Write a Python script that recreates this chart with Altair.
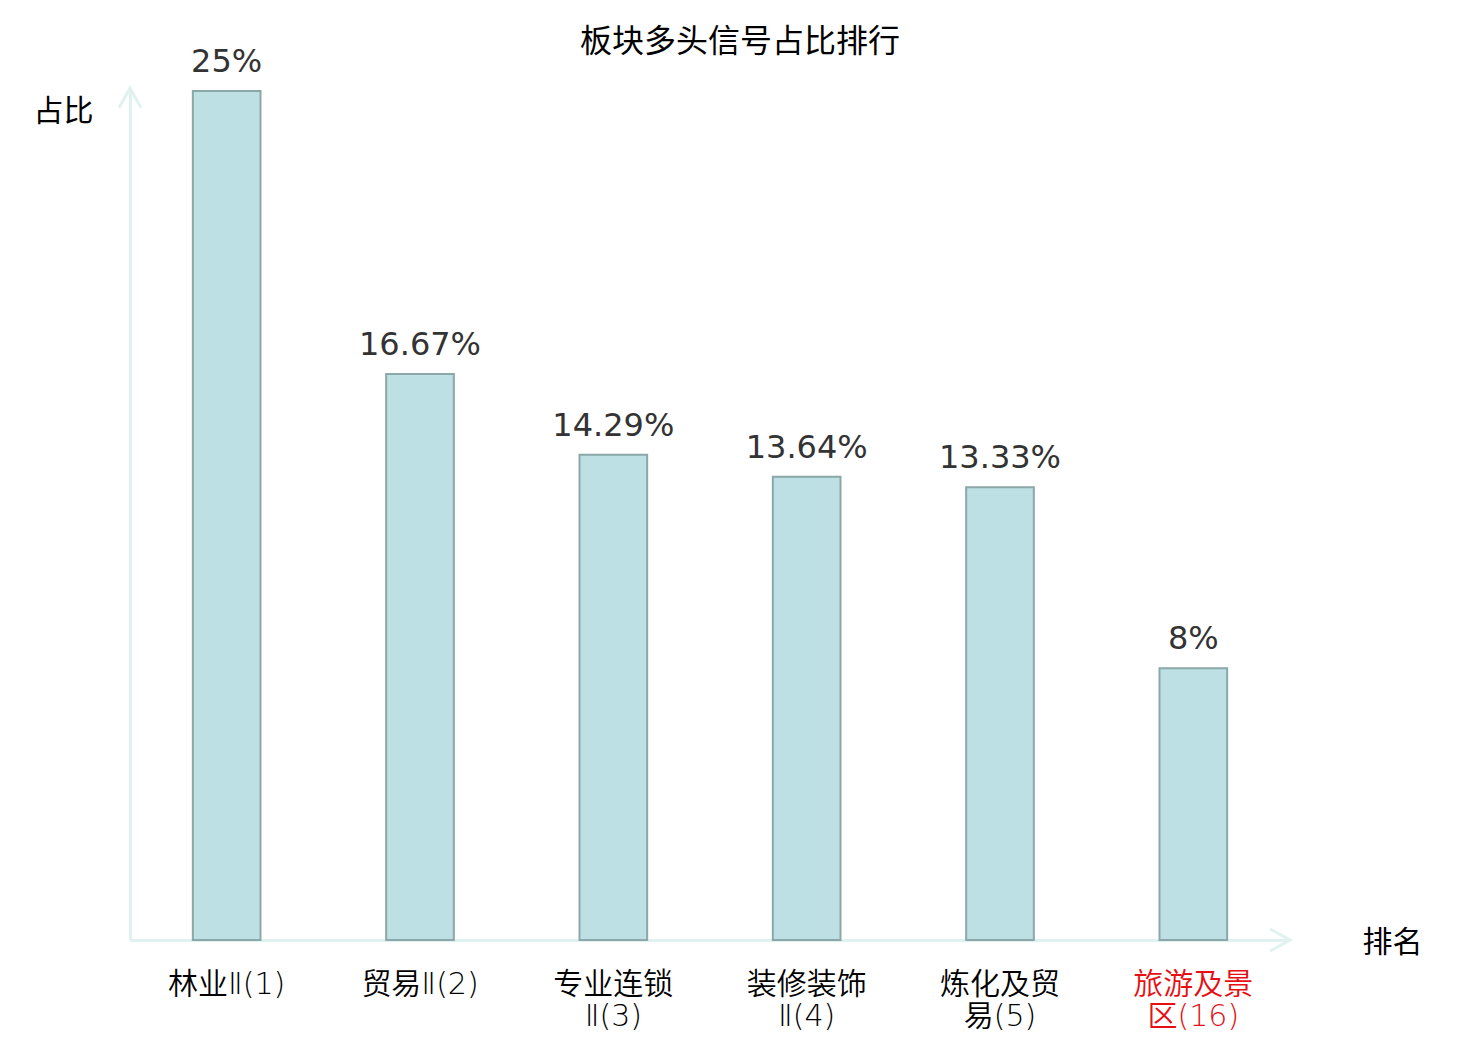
import altair as alt
import pandas as pd

categories = ["林业Ⅱ(1)", "贸易Ⅱ(2)", "专业连锁Ⅱ(3)", "装修装饰Ⅱ(4)", "炼化及贸易(5)", "旅游及景区(16)"]
values = [25, 16.67, 14.29, 13.64, 13.33, 8]
highlight = "旅游及景区(16)"

df = pd.DataFrame({"cat": categories, "v": values})

AXIS_COLOR = "#dff2ef"
CJK = "Noto Sans CJK SC"

x_enc = alt.X(
    "cat:N",
    sort=categories,
    scale=alt.Scale(paddingInner=0.65, paddingOuter=0.325),
    axis=alt.Axis(
        title="排名",
        titleFont=CJK,
        titleFontSize=30,
        titleFontWeight="normal",
        titleColor="#000",
        titleAngle=0,
        titleAlign="center",
        titleBaseline="middle",
        titleX=1262,
        titleY=2,
        domainColor=AXIS_COLOR,
        domainWidth=3,
        ticks=False,
        tickSize=0,
        labelPadding=29,
        labelFont="DejaVu Sans, Noto Sans CJK SC",
        labelFontWeight=alt.ExprRef("350"),
        labelFontSize=30,
        labelLineHeight=32,
        labelAngle=0,
        labelBaseline="top",
        labelColor={"condition": {"test": f"datum.value == '{highlight}'", "value": "#e60f14"}, "value": "#000"},
        labelExpr="length(datum.label) > 6 ? [substring(datum.label, 0, 4), substring(datum.label, 4)] : datum.label",
        grid=False,
    ),
)

y_enc = alt.Y(
    "v:Q",
    scale=alt.Scale(domain=[0, 25], nice=False, zero=True),
    axis=alt.Axis(
        title="占比",
        titleFont=CJK,
        titleFontSize=30,
        titleFontWeight="normal",
        titleColor="#000",
        titleAngle=0,
        titleAlign="center",
        titleBaseline="middle",
        titleX=-67,
        titleY=20,
        domainColor=AXIS_COLOR,
        domainWidth=3,
        ticks=False,
        labels=False,
        grid=False,
    ),
)

bars = alt.Chart(df).mark_bar(
    fill="#bce0e3", stroke="#8ba7a8", strokeWidth=2
).encode(x=x_enc, y=y_enc)

texts = alt.Chart(df).transform_calculate(
    lab="datum.v + '%'"
).mark_text(
    font="DejaVu Sans", fontSize=32, color="#333", baseline="middle", dy=-29
).encode(
    x=alt.X("cat:N", sort=categories),
    y="v:Q",
    text="lab:N",
)

one = pd.DataFrame({"k": [0]})
x_arrow = alt.Chart(one).mark_point(
    shape="M-1.8,-1L0,0L-1.8,1", filled=False, stroke=AXIS_COLOR, strokeWidth=3, size=484, opacity=1
).encode(x=alt.value(1160), y=alt.value(849))
y_arrow = alt.Chart(one).mark_point(
    shape="M-1,1.8L0,0L1,1.8", filled=False, stroke=AXIS_COLOR, strokeWidth=3, size=484, opacity=1
).encode(x=alt.value(0), y=alt.value(-3))

chart = alt.layer(bars, texts, x_arrow, y_arrow).properties(
    width=1160,
    height=849,
    title=alt.TitleParams(
        text="板块多头信号占比排行",
        font=CJK,
        fontSize=32,
        fontWeight="normal",
        color="#000",
        anchor="middle",
        frame="group",
        dx=30,
        offset=-13,
    ),
    autosize=alt.AutoSizeParams(type="none"),
    padding={"left": 122, "top": 83, "right": 182, "bottom": 92},
).configure_view(stroke=None)

chart.save("out.html", embed_options={"renderer": "svg", "actions": False})
